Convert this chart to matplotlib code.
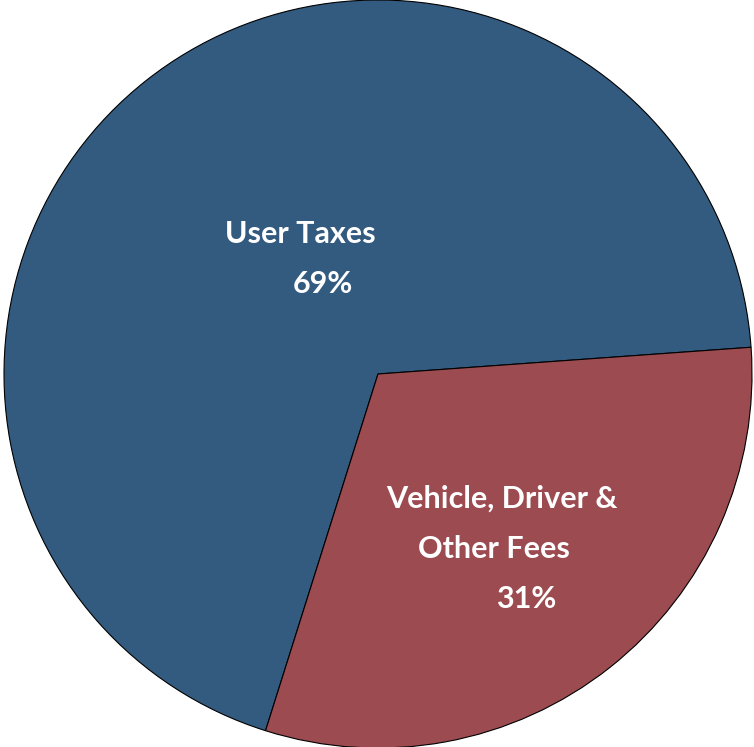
import matplotlib
matplotlib.use("Agg")
import matplotlib.pyplot as plt

categories = ["User Taxes", "Vehicle, Driver &\nOther Fees"]
values = [69, 31]
pct_labels = ["69%", "31%"]
colors = ["#335A7F", "#9C4B50"]

W, H = 754, 747
fig = plt.figure(figsize=(W / 100, H / 100), dpi=100)
ax = fig.add_axes([0, 0, 1, 1])
scale = 374.0
cx, cy = 378.0, 374.0

ax.pie(values, colors=colors, startangle=4.1, counterclock=True,
       radius=1.0, center=(0, 0), frame=True,
       wedgeprops=dict(edgecolor="black", linewidth=0.8))
ax.set_xlim(-cx / scale, (W - cx) / scale)
ax.set_ylim(-(H - cy) / scale, cy / scale)
ax.set_aspect("auto")
ax.axis("off")

font = dict(color="white", fontsize=22, fontweight="bold", family=["Lato", "DejaVu Sans"],
            ha="center", va="center")

def px(x, y):
    return ((x - cx) / scale, (cy - y) / scale)

ax.text(*px(300, 234), categories[0], **font)
ax.text(*px(323, 284), pct_labels[0], **font)
lines = categories[1].split("\n")
ax.text(*px(502, 499), lines[0], **font)
ax.text(*px(494, 549), lines[1], **font)
ax.text(*px(526, 599), pct_labels[1], **font)

fig.savefig("out.png", dpi=100, facecolor="white")
